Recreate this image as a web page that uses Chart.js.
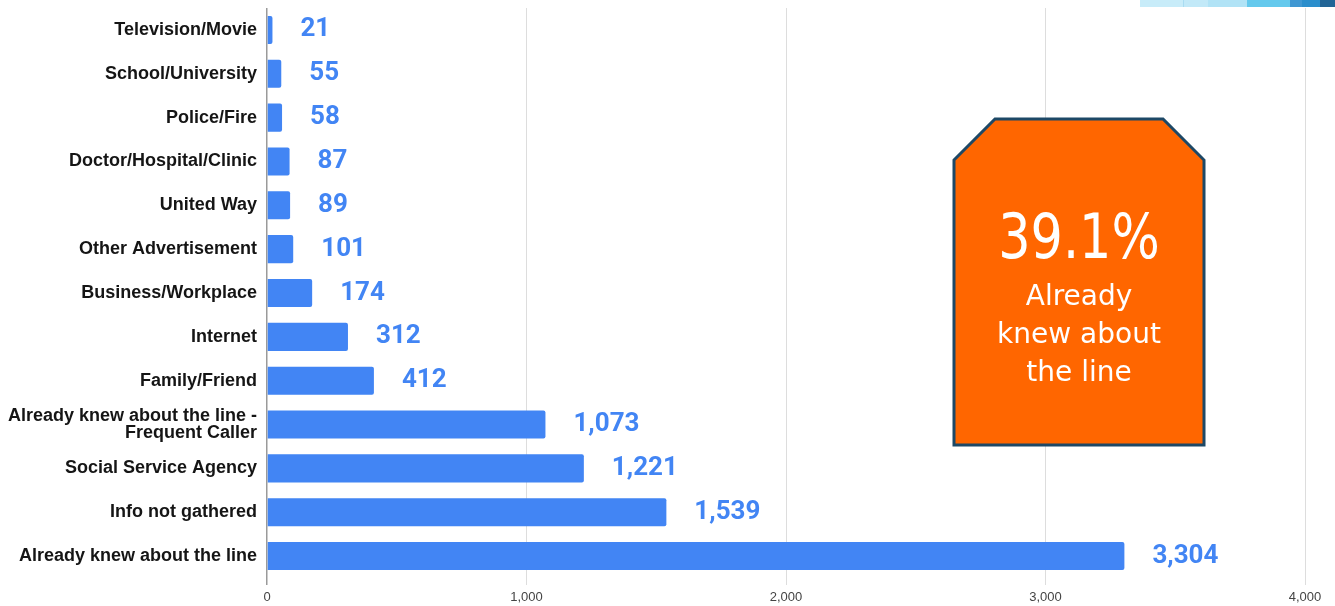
<!DOCTYPE html>
<html>
<head>
<meta charset="utf-8">
<script src="https://cdn.jsdelivr.net/npm/chart.js@4"></script>
<style>
    body { margin: 0; background: #fff; }
    #grafica { display: block; }
</style>
</head>
<body>
<canvas id="grafica" width="1335" height="606"></canvas>
<script>
// categorias (de arriba hacia abajo) y numero de llamadas
const categorias = [
    "Television/Movie",
    "School/University",
    "Police/Fire",
    "Doctor/Hospital/Clinic",
    "United Way",
    "Other Advertisement",
    "Business/Workplace",
    "Internet",
    "Family/Friend",
    ["Already knew about the line -", "Frequent Caller"],
    "Social Service Agency",
    "Info not gathered",
    "Already knew about the line"
];
const llamadas = [21, 55, 58, 87, 89, 101, 174, 312, 412, 1073, 1221, 1539, 3304];
const marcasEje = [0, 1000, 2000, 3000, 4000];

const recuadroValor = "39.1%";
const recuadroTexto = ["Already", "knew about", "the line"];

// franja decorativa arriba a la derecha
const franja = [
    [1140, 1183, "#c8ecf9"],
    [1183, 1184, "#a9dcf2"],
    [1184, 1208, "#c2e9f8"],
    [1208, 1247, "#b1e3f6"],
    [1247, 1290, "#64c9ed"],
    [1290, 1302, "#3f97d2"],
    [1302, 1320, "#2b8ecc"],
    [1320, 1335, "#226596"]
];

// etiquetas con el valor al final de cada barra
const etiquetasValor = {
    id: "etiquetasValor",
    afterDatasetsDraw(chart) {
        const ctx = chart.ctx;
        const meta = chart.getDatasetMeta(0);
        ctx.save();
        ctx.font = "bold 26px Roboto, Arial, sans-serif";
        ctx.fillStyle = "#4285f4";
        ctx.textAlign = "left";
        ctx.textBaseline = "middle";
        meta.data.forEach((barra, i) => {
            ctx.fillText(llamadas[i].toLocaleString("en-US"), barra.x + 28, barra.y);
        });
        ctx.restore();
    }
};

const decoracion = {
    id: "decoracion",
    beforeDraw(chart) {
        const ctx = chart.ctx;
        ctx.save();
        franja.forEach(([x0, x1, c]) => {
            ctx.fillStyle = c;
            ctx.fillRect(x0, 0, x1 - x0, 7);
        });
        ctx.restore();
    },
    afterDraw(chart) {
        const ctx = chart.ctx;
        ctx.save();
        // recuadro naranja con esquinas superiores cortadas
        ctx.beginPath();
        ctx.moveTo(954, 160);
        ctx.lineTo(995, 119);
        ctx.lineTo(1163, 119);
        ctx.lineTo(1204, 160);
        ctx.lineTo(1204, 445);
        ctx.lineTo(954, 445);
        ctx.closePath();
        ctx.fillStyle = "#ff6600";
        ctx.fill();
        ctx.lineWidth = 3;
        ctx.strokeStyle = "#1d4866";
        ctx.stroke();

        ctx.fillStyle = "#ffffff";
        ctx.textAlign = "center";
        ctx.textBaseline = "alphabetic";
        ctx.font = "62px 'DejaVu Sans', sans-serif";
        ctx.save();
        ctx.translate(1079, 258);
        ctx.scale(0.82, 1);
        ctx.fillText(recuadroValor, 0, 0);
        ctx.restore();
        ctx.font = "28px 'DejaVu Sans', sans-serif";
        recuadroTexto.forEach((linea, i) => {
            ctx.fillText(linea, 1079, 305 + i * 38);
        });
        ctx.restore();
    }
};

const ctx = document.getElementById("grafica").getContext("2d");
new Chart(ctx, {
    type: "bar",
    data: {
        labels: categorias,
        datasets: [{
            data: llamadas,
            backgroundColor: "#4285f4",
            borderWidth: 0,
            borderRadius: 2,
            borderSkipped: "start",
            categoryPercentage: 1,
            barPercentage: 0.64
        }]
    },
    options: {
        indexAxis: "y",
        responsive: false,
        animation: false,
        layout: {
            padding: { top: 8, right: 30, bottom: 0, left: 0 }
        },
        plugins: {
            legend: { display: false },
            tooltip: { enabled: false }
        },
        scales: {
            x: {
                min: 0,
                max: 4000,
                afterBuildTicks: (eje) => {
                    eje.ticks = marcasEje.map(v => ({ value: v }));
                },
                afterFit: (eje) => {
                    eje.height = 28;
                    eje.paddingRight = 0;
                    eje.paddingLeft = 0;
                },
                border: { display: false },
                grid: {
                    color: (c) => c.index === 0 ? "#9a9a9a" : "#dddddd",
                    lineWidth: (c) => c.index === 0 ? 1.5 : 1,
                    tickLength: 7
                },
                ticks: {
                    padding: 5,
                    color: "#444444",
                    font: { family: "Arial, 'Liberation Sans'", size: 13 },
                    callback: (v) => v.toLocaleString("en-US")
                }
            },
            y: {
                afterFit: (eje) => {
                    eje.width = 267;
                    eje.paddingTop = 0;
                    eje.paddingBottom = 0;
                },
                border: { display: false },
                grid: { display: false, drawTicks: false },
                ticks: {
                    padding: 10,
                    color: "#151515",
                    font: { family: "Arial, 'Liberation Sans'", size: 18, weight: "bold", lineHeight: 0.95 }
                }
            }
        }
    },
    plugins: [etiquetasValor, decoracion]
});
</script>
</body>
</html>
